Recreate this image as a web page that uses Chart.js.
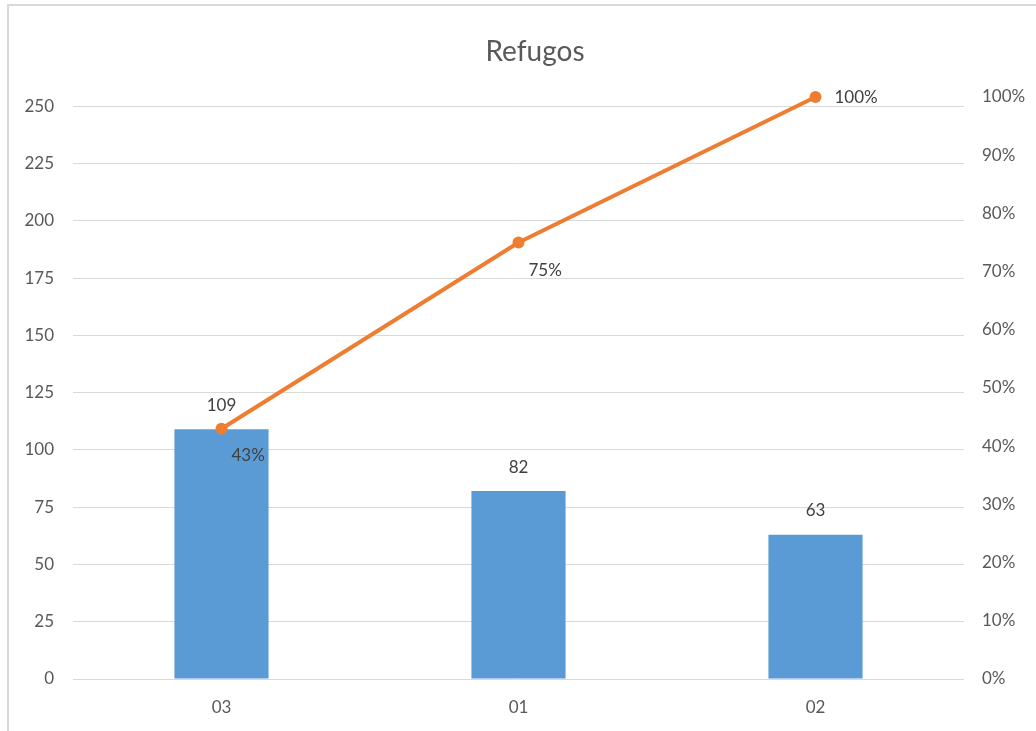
<!DOCTYPE html>
<html lang="es">
<head>
    <meta charset="UTF-8">
    <title>Refugos</title>
    <script src="https://cdn.jsdelivr.net/npm/chart.js"></script>
    <style>
        html, body { margin: 0; padding: 0; background: #fff; overflow: hidden; }
        #wrap { position: relative; width: 1036px; height: 731px; overflow: hidden; }
        #frame { position: absolute; left: 7px; top: 4px; width: 1100px; height: 800px;
                 border: 2px solid #d9d9d9; box-sizing: border-box; }
        #chartCanvas { position: absolute; left: 0; top: 0; }
    </style>
</head>
<body>
    <div id="wrap">
        <div id="frame"></div>
        <!-- canvas is a bit wider than the page: the original chart runs past the right edge -->
        <canvas id="chartCanvas" width="1070" height="731"></canvas>
    </div>
    <script>
// data
const categories = ['03', '01', '02'];
const refugos = [109, 82, 63];
const acumulado = [0.43, 0.75, 1.00];
const leftMax = 254;   // sum of the bars, Pareto style
const leftTicks = [0, 25, 50, 75, 100, 125, 150, 175, 200, 225, 250];
const rightStep = 0.1;

const fontFamily = 'Lato, "Open Sans", sans-serif';
const textColor = '#595959';

// draws the value labels (no datalabels plugin offline)
const valueLabels = {
    id: 'valueLabels',
    afterDatasetsDraw(chart) {
        const ctx = chart.ctx;
        ctx.save();
        ctx.font = '17px ' + fontFamily;
        ctx.fillStyle = '#404040';

        // bar labels above the bars
        const bars = chart.getDatasetMeta(0).data;
        ctx.textAlign = 'center';
        ctx.textBaseline = 'middle';
        bars.forEach((bar, i) => {
            ctx.fillText(refugos[i], bar.x, bar.y - 24);
        });

        // line labels
        const pts = chart.getDatasetMeta(1).data;
        ctx.textAlign = 'left';
        const offsets = [[10, 27], [10, 28], [19, 1]];
        pts.forEach((p, i) => {
            ctx.fillText(Math.round(acumulado[i] * 100) + '%', p.x + offsets[i][0], p.y + offsets[i][1]);
        });
        ctx.restore();
    }
};

const ctx = document.getElementById('chartCanvas').getContext('2d');
window.myChart = new Chart(ctx, {
    data: {
        labels: categories,
        datasets: [
            {
                type: 'bar',
                label: 'Refugos',
                data: refugos,
                backgroundColor: '#5B9BD5',
                categoryPercentage: 1,
                barPercentage: 0.317,
                yAxisID: 'y',
                order: 1
            },
            {
                type: 'line',
                label: 'Acumulado',
                data: acumulado,
                borderColor: '#ED7D31',
                backgroundColor: '#ED7D31',
                borderWidth: 4,
                pointRadius: 6,
                pointBorderWidth: 0,
                tension: 0,
                clip: false,
                yAxisID: 'y1',
                order: 0
            }
        ]
    },
    options: {
        responsive: false,
        animation: false,
        layout: { padding: 0 },
        plugins: {
            legend: { display: false },
            tooltip: { enabled: false },
            title: {
                display: true,
                text: 'Refugos',
                color: textColor,
                font: { family: fontFamily, size: 28, weight: 'normal' },
                padding: { top: 35, bottom: 28.4 }
            }
        },
        scales: {
            x: {
                grid: { display: false, drawTicks: false },
                border: { display: false },
                ticks: { color: textColor, font: { family: fontFamily, size: 17 }, padding: 18 },
                afterFit(scale) { scale.height = 52; }
            },
            y: {
                position: 'left',
                min: 0,
                max: leftMax,
                ticks: {
                    color: textColor,
                    font: { family: fontFamily, size: 17 },
                    padding: 19
                },
                afterBuildTicks(scale) {
                    scale.ticks = leftTicks.map(v => ({ value: v }));
                },
                grid: { color: '#d9d9d9', lineWidth: 1, drawTicks: false },
                border: { display: false },
                afterFit(scale) { scale.width = 73; }
            },
            y1: {
                position: 'right',
                min: 0,
                max: 1,
                ticks: {
                    stepSize: rightStep,
                    color: textColor,
                    font: { family: fontFamily, size: 17 },
                    padding: 18,
                    callback: v => Math.round(v * 100) + '%'
                },
                grid: { display: false, drawTicks: false },
                border: { display: false },
                afterFit(scale) { scale.width = 106; }
            }
        }
    },
    plugins: [valueLabels]
});
    </script>
</body>
</html>
